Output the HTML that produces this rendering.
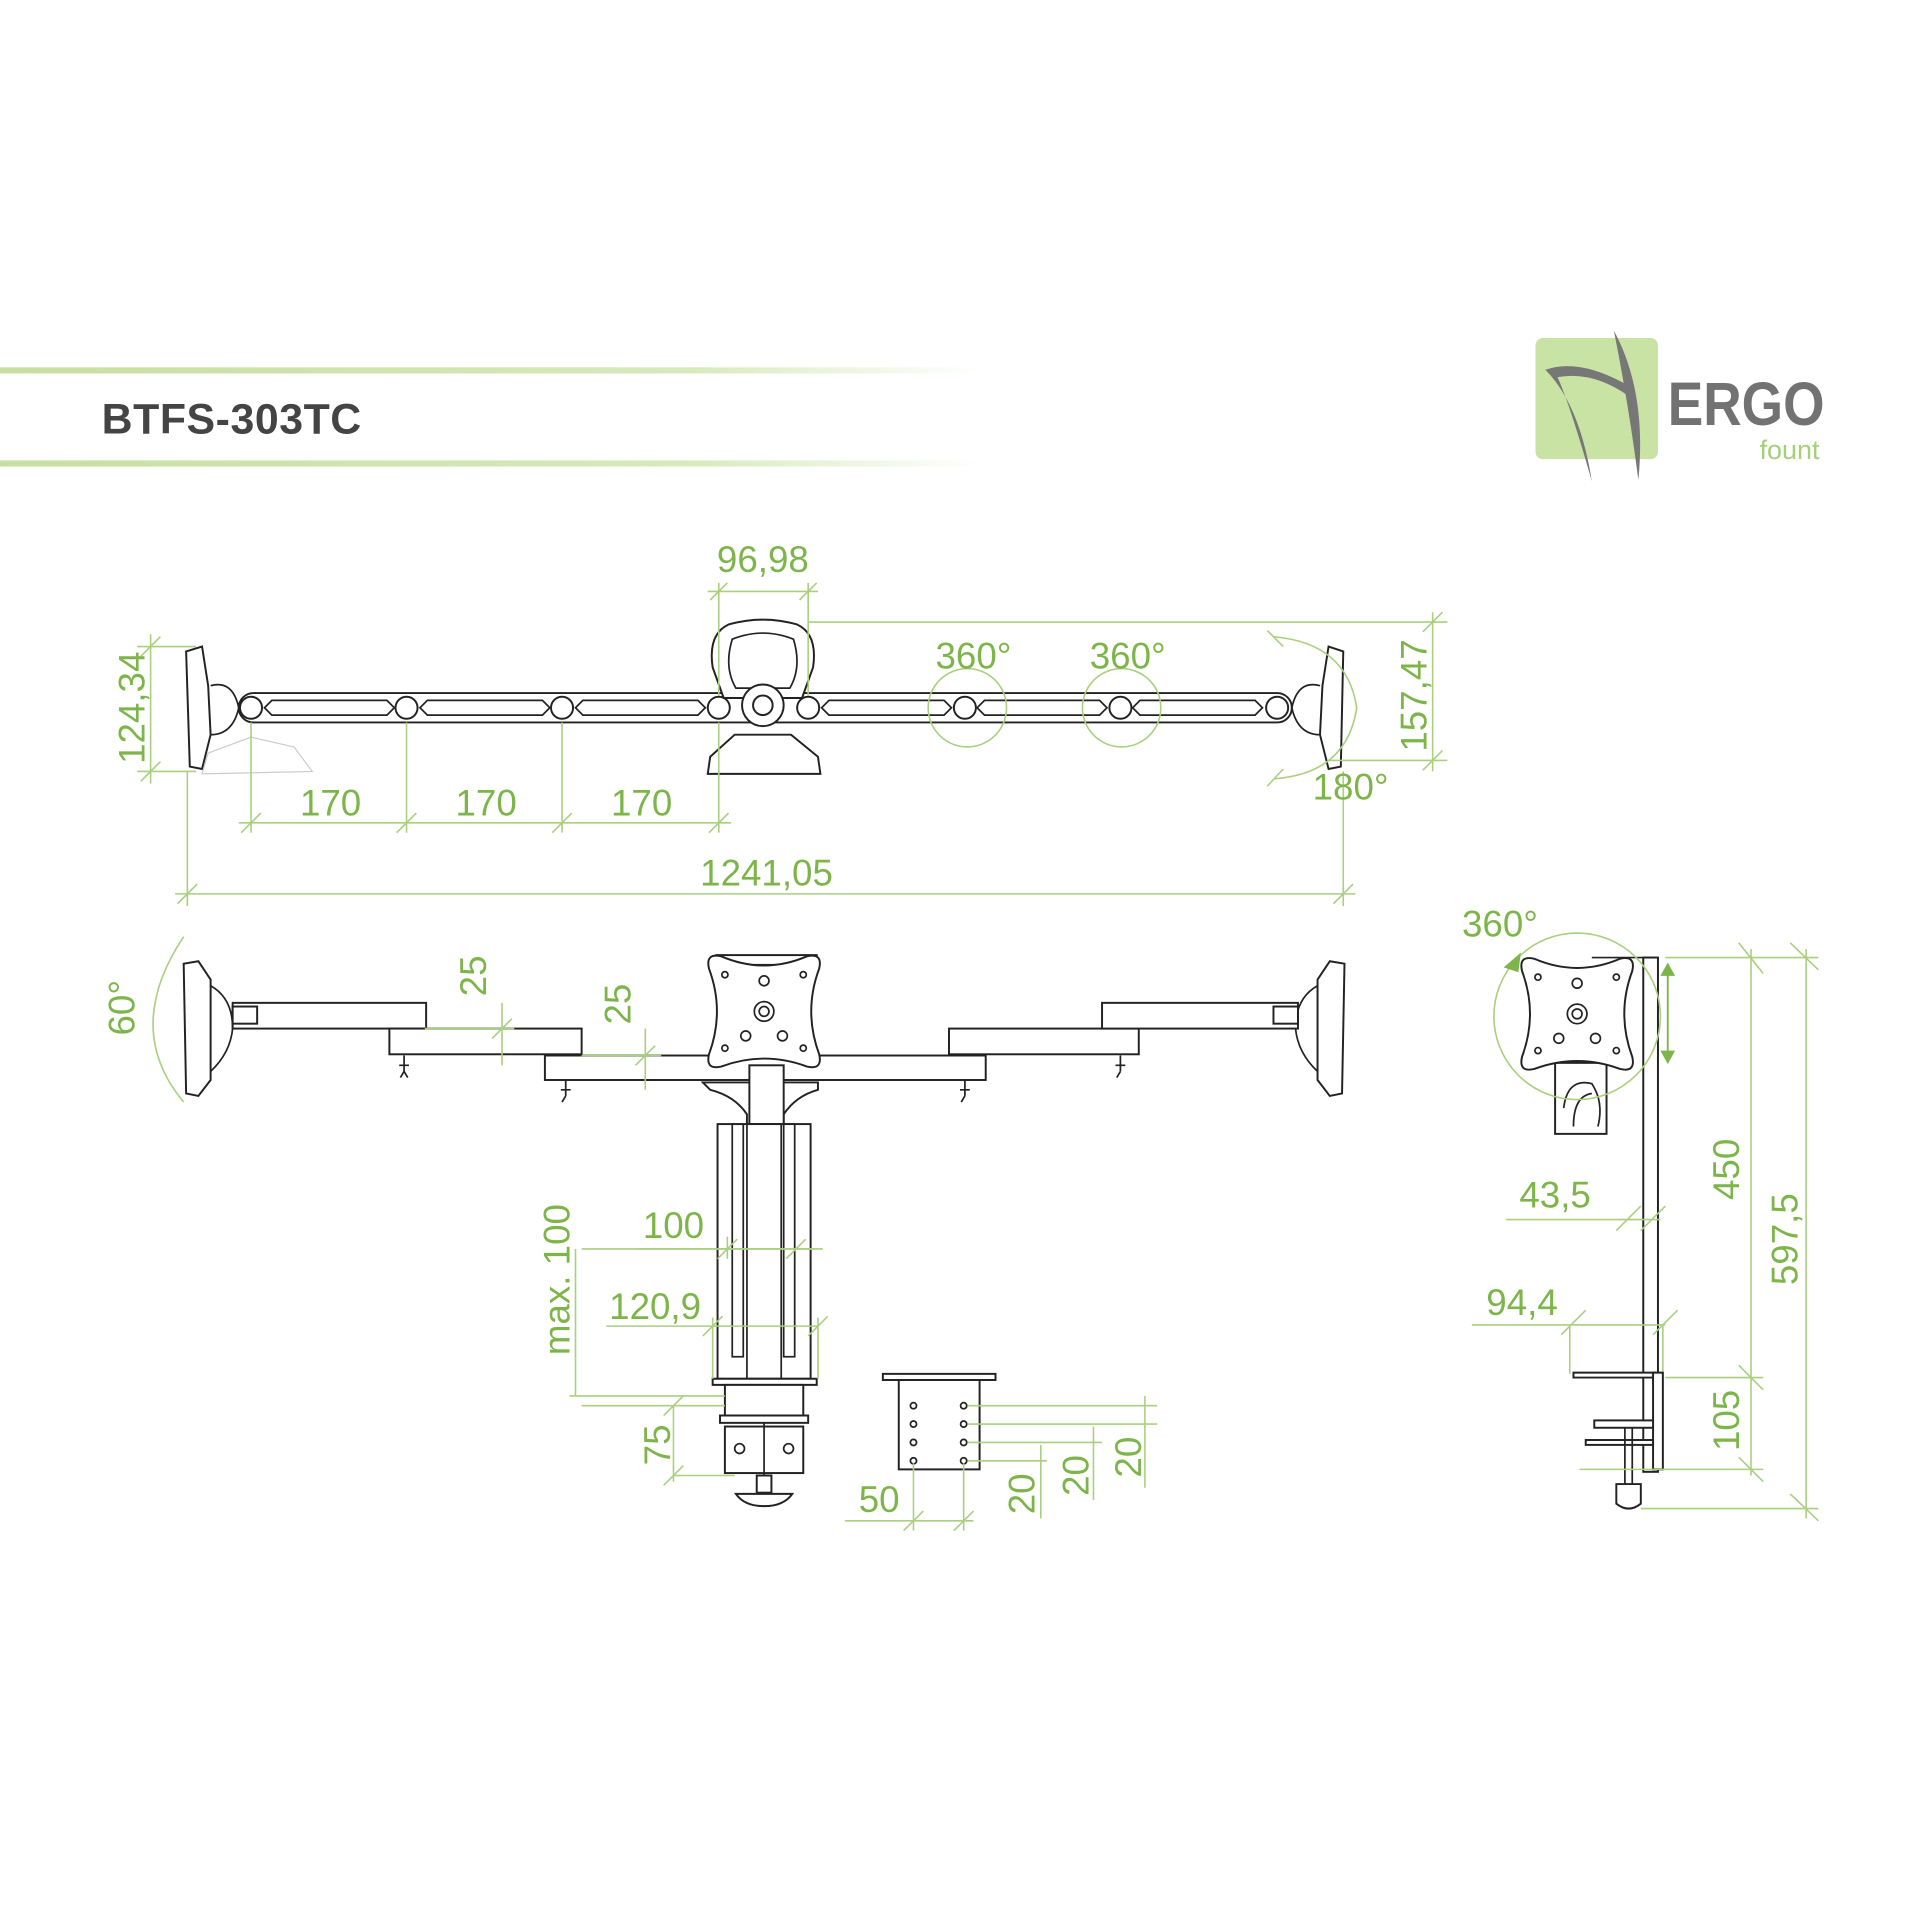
<!DOCTYPE html>
<html><head><meta charset="utf-8"><style>
html,body{margin:0;padding:0;background:#fff}
svg{display:block}
text{font-family:"Liberation Sans",sans-serif}
.g{fill:#7db54a;font-size:30px}
.d{stroke:#a9cf7f;stroke-width:1.3;fill:none}
.k{stroke:#222;stroke-width:1.6;fill:#fff}
.kn{stroke:#222;stroke-width:1.4;fill:none}
</style></head><body>
<svg width="1920" height="1920" viewBox="0 0 1568 1568" xmlns="http://www.w3.org/2000/svg">
<defs>
<linearGradient id="fade" x1="0" x2="1"><stop offset="0" stop-color="#c5e09f"/><stop offset="0.7" stop-color="#d6eabb"/><stop offset="1" stop-color="#fff"/></linearGradient>
<path id="plate" d="M -35,-45 Q 0,-30 35,-45 Q 48,-48 45,-35 Q 32,0 45,35 Q 48,48 35,45 Q 0,32 -35,45 Q -48,48 -45,35 Q -32,0 -45,-35 Q -48,-48 -35,-45 Z"/>
</defs>
<!-- header -->
<rect x="0" y="300" width="800" height="5" fill="url(#fade)"/>
<rect x="0" y="376" width="800" height="5" fill="url(#fade)"/>
<text x="83" y="354" font-size="35" font-weight="bold" fill="#444" textLength="212">BTFS-303TC</text>
<!-- logo -->
<rect x="1254" y="276" width="100" height="99" rx="6" fill="#c9e3a5"/>
<path d="M1318,270 Q1345,320 1338,392 Q1330,330 1318,270Z" fill="#777"/>
<path d="M1330,315 Q1290,292 1262,302 Q1290,330 1300,393 Q1282,330 1272,308 Q1300,303 1328,322Z" fill="#777"/>
<text x="1362" y="347" font-size="50" font-weight="bold" fill="#727272" textLength="128" lengthAdjust="spacingAndGlyphs">ERGO</text>
<text x="1437" y="375" font-size="22" fill="#a6cf7a">fount</text>

<!-- TOP VIEW -->
<path class="k" d="M152,532 L165,528 L170,560 L172,600 L165,628 L155,626 Z"/>
<path class="k" d="M1097,532 L1085,528 L1080,560 L1078,600 L1085,628 L1095,626 Z"/>
<path class="kn" d="M172,560 Q190,555 195,578 Q190,600 172,600"/>
<path class="kn" d="M1078,560 Q1060,555 1055,578 Q1060,600 1078,600"/>
<rect class="k" x="195" y="566" width="860" height="24" rx="12"/>
<g class="kn">
<path d="M222,572 H316 L322,578 L316,584 H222 L216,578Z"/><path d="M349,572 H443 L449,578 L443,584 H349 L343,578Z"/><path d="M476,572 H570 L576,578 L570,584 H476 L470,578Z"/>
<path d="M677,572 H771 L777,578 L771,584 H677 L671,578Z"/><path d="M804,572 H898 L904,578 L898,584 H804 L798,578Z"/><path d="M931,572 H1025 L1031,578 L1025,584 H931 L925,578Z"/>
</g>
<g class="k"><circle cx="205" cy="578" r="9"/><circle cx="332" cy="578" r="9"/><circle cx="459" cy="578" r="9"/><circle cx="587" cy="578" r="9"/><circle cx="660" cy="578" r="9"/><circle cx="788" cy="578" r="9"/><circle cx="915" cy="578" r="9"/><circle cx="1043" cy="578" r="9"/></g>
<path class="k" d="M595,510 Q623,502 651,510 Q668,518 664,545 L655,570 H591 L582,545 Q578,518 595,510Z"/>
<path class="kn" d="M598,522 Q623,512 648,522 Q655,545 645,562 H601 Q591,545 598,522Z"/>
<circle class="k" cx="623" cy="576" r="17"/><circle class="k" cx="623" cy="576" r="8"/>
<path class="k" d="M600,600 L646,600 L668,618 L670,632 L578,632 L580,618Z"/>
<path d="M170,615 L205,602 L240,610 L255,630 L165,632Z" fill="none" stroke="#ccc"/>
<!-- top dims -->
<g class="d">
<line x1="587" y1="476" x2="587" y2="568"/><line x1="660" y1="476" x2="660" y2="568"/><line x1="578" y1="483" x2="668" y2="483"/>
<line x1="580" y1="490" x2="594" y2="476"/><line x1="653" y1="490" x2="667" y2="476"/>
<line x1="660" y1="508" x2="1182" y2="508"/><line x1="1085" y1="621" x2="1182" y2="621"/><line x1="1170" y1="500" x2="1170" y2="630"/>
<line x1="1162" y1="516" x2="1178" y2="500"/><line x1="1162" y1="629" x2="1178" y2="613"/>
<line x1="112" y1="528" x2="160" y2="528"/><line x1="112" y1="630" x2="160" y2="630"/><line x1="123" y1="518" x2="123" y2="640"/>
<line x1="115" y1="536" x2="131" y2="520"/><line x1="115" y1="638" x2="131" y2="622"/>
<line x1="205" y1="590" x2="205" y2="680"/><line x1="332" y1="590" x2="332" y2="680"/><line x1="459" y1="590" x2="459" y2="680"/><line x1="587" y1="590" x2="587" y2="680"/>
<line x1="195" y1="672" x2="597" y2="672"/>
<line x1="197" y1="680" x2="213" y2="664"/><line x1="324" y1="680" x2="340" y2="664"/><line x1="451" y1="680" x2="467" y2="664"/><line x1="579" y1="680" x2="595" y2="664"/>
<line x1="153" y1="630" x2="153" y2="740"/><line x1="1097" y1="630" x2="1097" y2="740"/><line x1="143" y1="730" x2="1107" y2="730"/>
<line x1="145" y1="738" x2="161" y2="722"/><line x1="1089" y1="738" x2="1105" y2="722"/>
<circle cx="790" cy="578" r="32"/><circle cx="916" cy="578" r="32"/>
<path d="M1040,520 Q1100,525 1108,578 Q1100,632 1040,636"/>
<line x1="1035" y1="515" x2="1048" y2="528"/><line x1="1035" y1="642" x2="1048" y2="628"/>
</g>
<text class="g" x="623" y="467" text-anchor="middle">96,98</text>
<text class="g" x="795" y="546" text-anchor="middle">360°</text>
<text class="g" x="921" y="546" text-anchor="middle">360°</text>
<text class="g" x="1103" y="653" text-anchor="middle">180°</text>
<text class="g" x="270" y="666" text-anchor="middle">170</text>
<text class="g" x="397" y="666" text-anchor="middle">170</text>
<text class="g" x="524" y="666" text-anchor="middle">170</text>
<text class="g" x="626" y="723" text-anchor="middle">1241,05</text>
<text class="g" transform="translate(118,578) rotate(-90)" text-anchor="middle">124,34</text>
<text class="g" transform="translate(1165,568) rotate(-90)" text-anchor="middle">157,47</text>

<!-- FRONT VIEW -->
<path class="k" d="M150,787 L162,785 L172,800 L172,882 L162,895 L152,893Z"/>
<path class="k" d="M1098,787 L1086,785 L1076,800 L1076,882 L1086,895 L1096,893Z"/>
<path class="kn" d="M172,805 Q190,815 190,840 Q188,860 172,875"/><path class="kn" d="M1076,805 Q1058,815 1058,840 Q1060,860 1076,875"/>
<rect class="k" x="190" y="819" width="158" height="21"/><rect class="k" x="190" y="822" width="20" height="14"/>
<rect class="k" x="318" y="840" width="157" height="21"/>
<rect class="k" x="445" y="862" width="360" height="20"/>
<rect class="k" x="775" y="840" width="155" height="21"/>
<rect class="k" x="900" y="819" width="160" height="21"/><rect class="k" x="1040" y="822" width="20" height="14"/>
<g class="kn"><path d="M330,862 V875 M326,870 H334 M330,875 L327,880 M330,875 L333,880"/><path d="M462,882 V895 M458,890 H466 M462,895 L459,900"/><path d="M788,882 V895 M784,890 H792 M788,895 L785,900"/><path d="M915,862 V875 M911,870 H919 M915,875 L912,880"/></g>
<rect class="k" x="585" y="780" width="82" height="8"/>
<g transform="translate(624,826)"><use href="#plate" class="k"/><circle class="kn" r="8"/><circle class="kn" r="4"/><circle class="kn" cx="-32" cy="-30" r="2.5"/><circle class="kn" cx="32" cy="-30" r="2.5"/><circle class="kn" cx="-32" cy="30" r="2.5"/><circle class="kn" cx="32" cy="30" r="2.5"/><circle class="kn" cy="-25" r="4"/><circle class="kn" cx="-15" cy="20" r="4"/><circle class="kn" cx="15" cy="20" r="4"/></g>
<path class="k" d="M574,884 H668 V890 Q650,895 640,910 V918 H610 V910 Q600,895 580,890Z"/>
<rect class="k" x="612" y="870" width="28" height="48"/>
<rect class="k" x="586" y="918" width="76" height="208"/>
<rect class="kn" x="598" y="918" width="9" height="190"/><rect class="kn" x="640" y="918" width="9" height="190"/>
<rect class="kn" x="610" y="918" width="28" height="208"/>
<path class="k" d="M582,1126 H667 V1131 H582Z"/>
<rect class="k" x="592" y="1131" width="64" height="25"/><rect class="k" x="588" y="1156" width="72" height="6"/>
<rect class="k" x="592" y="1165" width="64" height="38"/><circle class="kn" cx="604" cy="1183" r="4"/><circle class="kn" cx="644" cy="1183" r="4"/>
<line class="kn" x1="624" y1="1162" x2="624" y2="1210"/><rect class="k" x="618" y="1205" width="12" height="14"/>
<path class="k" d="M601,1220 H647 Q640,1230 624,1230 Q608,1230 601,1220Z"/>
<rect class="k" x="721" y="1122" width="92" height="5"/><rect class="k" x="734" y="1127" width="66" height="73"/>
<g class="kn"><circle cx="746" cy="1148" r="2.5"/><circle cx="746" cy="1163" r="2.5"/><circle cx="746" cy="1178" r="2.5"/><circle cx="746" cy="1193" r="2.5"/><circle cx="787" cy="1148" r="2.5"/><circle cx="787" cy="1163" r="2.5"/><circle cx="787" cy="1178" r="2.5"/><circle cx="787" cy="1193" r="2.5"/></g>
<g class="d">
<path d="M150,765 Q100,840 150,900"/>
<line x1="347" y1="840" x2="420" y2="840"/><line x1="410" y1="819" x2="410" y2="870"/><line x1="402" y1="848" x2="418" y2="832"/>
<line x1="475" y1="862" x2="540" y2="862"/><line x1="527" y1="840" x2="527" y2="890"/><line x1="519" y1="870" x2="535" y2="854"/>
<line x1="475" y1="1020" x2="665" y2="1020"/><line x1="465" y1="1140" x2="592" y2="1140"/><line x1="470" y1="1020" x2="470" y2="1140"/>
<line x1="520" y1="1020" x2="672" y2="1020"/><line x1="594" y1="1010" x2="594" y2="1028"/><line x1="586" y1="1028" x2="602" y2="1012"/><line x1="642" y1="1028" x2="658" y2="1012"/>
<line x1="495" y1="1083" x2="668" y2="1083"/><line x1="582" y1="1076" x2="582" y2="1126"/><line x1="668" y1="1076" x2="668" y2="1126"/><line x1="574" y1="1091" x2="590" y2="1075"/><line x1="660" y1="1091" x2="676" y2="1075"/>
<line x1="475" y1="1148" x2="592" y2="1148"/><line x1="550" y1="1148" x2="550" y2="1210"/><line x1="550" y1="1205" x2="600" y2="1205"/>
<line x1="542" y1="1156" x2="558" y2="1140"/><line x1="542" y1="1213" x2="558" y2="1197"/>
<line x1="746" y1="1195" x2="746" y2="1250"/><line x1="787" y1="1195" x2="787" y2="1250"/><line x1="690" y1="1242" x2="795" y2="1242"/><line x1="738" y1="1250" x2="754" y2="1234"/><line x1="779" y1="1250" x2="795" y2="1234"/>
<line x1="790" y1="1148" x2="945" y2="1148"/><line x1="790" y1="1163" x2="945" y2="1163"/><line x1="790" y1="1178" x2="900" y2="1178"/><line x1="790" y1="1193" x2="855" y2="1193"/>
<line x1="850" y1="1180" x2="850" y2="1240"/><line x1="893" y1="1165" x2="893" y2="1225"/><line x1="935" y1="1140" x2="935" y2="1215"/>
</g>
<text class="g" transform="translate(110,823) rotate(-90)" text-anchor="middle">60°</text>
<text class="g" transform="translate(397,797) rotate(-90)" text-anchor="middle">25</text>
<text class="g" transform="translate(515,820) rotate(-90)" text-anchor="middle">25</text>
<text class="g" transform="translate(465,1045) rotate(-90)" text-anchor="middle">max. 100</text>
<text class="g" x="550" y="1011" text-anchor="middle">100</text>
<text class="g" x="535" y="1077" text-anchor="middle">120,9</text>
<text class="g" transform="translate(547,1180) rotate(-90)" text-anchor="middle">75</text>
<text class="g" x="718" y="1235" text-anchor="middle">50</text>
<text class="g" transform="translate(845,1220) rotate(-90)" text-anchor="middle">20</text>
<text class="g" transform="translate(889,1205) rotate(-90)" text-anchor="middle">20</text>
<text class="g" transform="translate(932,1190) rotate(-90)" text-anchor="middle">20</text>

<!-- SIDE VIEW -->
<rect class="k" x="1342" y="782" width="12" height="420"/>
<rect class="k" x="1270" y="868" width="42" height="58"/>
<path class="kn" d="M1277,905 Q1280,880 1300,885 Q1310,900 1305,920 M1285,920 Q1285,895 1300,893"/>
<g transform="translate(1288,828)"><use href="#plate" class="k"/><circle class="kn" r="8"/><circle class="kn" r="4"/><circle class="kn" cx="-32" cy="-30" r="2.5"/><circle class="kn" cx="32" cy="-30" r="2.5"/><circle class="kn" cx="-32" cy="30" r="2.5"/><circle class="kn" cx="32" cy="30" r="2.5"/><circle class="kn" cy="-25" r="4"/><circle class="kn" cx="-15" cy="20" r="4"/><circle class="kn" cx="15" cy="20" r="4"/></g>
<line class="kn" x1="1300" y1="782" x2="1350" y2="782"/>
<path class="k" d="M1285,1121 H1352 V1125 H1285Z"/><path class="k" d="M1350,1121 H1358 V1200 H1350Z"/>
<rect class="k" x="1302" y="1160" width="48" height="6"/><rect class="k" x="1295" y="1176" width="55" height="4"/>
<line class="kn" x1="1327" y1="1166" x2="1327" y2="1212"/><line class="kn" x1="1333" y1="1166" x2="1333" y2="1212"/>
<path class="k" d="M1320,1212 H1340 V1228 Q1330,1236 1320,1228Z"/>
<g class="d">
<circle cx="1288" cy="830" r="68"/>
<line x1="1360" y1="782" x2="1485" y2="782"/><line x1="1360" y1="1125" x2="1440" y2="1125"/><line x1="1290" y1="1200" x2="1440" y2="1200"/><line x1="1340" y1="1232" x2="1485" y2="1232"/>
<line x1="1430" y1="775" x2="1430" y2="1205"/><line x1="1475" y1="775" x2="1475" y2="1240"/>
<line x1="1420" y1="770" x2="1440" y2="795"/><line x1="1462" y1="770" x2="1485" y2="792"/><line x1="1420" y1="1115" x2="1440" y2="1135"/><line x1="1420" y1="1190" x2="1440" y2="1210"/><line x1="1462" y1="1220" x2="1485" y2="1242"/>
<line x1="1230" y1="996" x2="1356" y2="996"/><line x1="1320" y1="1005" x2="1340" y2="985"/><line x1="1340" y1="1005" x2="1360" y2="985"/>
<line x1="1202" y1="1082" x2="1360" y2="1082"/><line x1="1282" y1="1082" x2="1282" y2="1122"/><line x1="1358" y1="1082" x2="1358" y2="1120"/>
<line x1="1275" y1="1090" x2="1295" y2="1070"/><line x1="1350" y1="1090" x2="1370" y2="1070"/>
</g>
<line x1="1362" y1="795" x2="1362" y2="860" stroke="#7db54a" stroke-width="1.5"/>
<path d="M1356,797 L1362,786 L1368,797Z M1356,858 L1362,869 L1368,858Z" fill="#7db54a"/>
<path d="M1228,790 L1242,778 L1240,794Z" fill="#7db54a"/>
<text class="g" x="1225" y="765" text-anchor="middle">360°</text>
<text class="g" x="1270" y="986" text-anchor="middle">43,5</text>
<text class="g" x="1243" y="1074" text-anchor="middle">94,4</text>
<text class="g" transform="translate(1420,955) rotate(-90)" text-anchor="middle">450</text>
<text class="g" transform="translate(1468,1012) rotate(-90)" text-anchor="middle">597,5</text>
<text class="g" transform="translate(1420,1160) rotate(-90)" text-anchor="middle">105</text>
</svg>
</body></html>
